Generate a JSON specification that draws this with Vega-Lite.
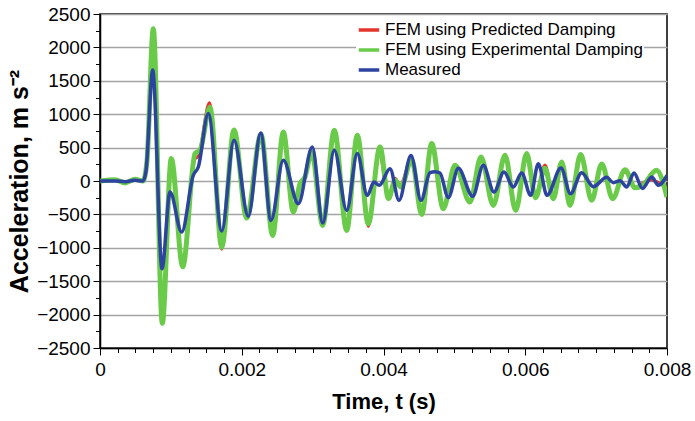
{
  "$schema": "https://vega.github.io/schema/vega-lite/v6.json",
  "width": 567,
  "height": 334,
  "autosize": {"type": "none"},
  "padding": {"left": 100, "top": 14, "right": 28, "bottom": 73},
  "background": "white",
  "config": {
    "font": "Liberation Sans",
    "view": {"stroke": "black", "strokeWidth": 1.5},
    "axis": {"domainColor": "black", "domainWidth": 1.5, "tickColor": "black", "tickWidth": 1, "labelColor": "black", "titleColor": "black", "labelFont": "Liberation Sans", "titleFont": "Liberation Sans"}
  },
  "datasets": {
    "acc": [
      {"series": "FEM using Predicted Damping", "t": 0, "a": 0},
      {"series": "FEM using Predicted Damping", "t": 0.00021164, "a": 15},
      {"series": "FEM using Predicted Damping", "t": 0.00035273, "a": -25},
      {"series": "FEM using Predicted Damping", "t": 0.00049383, "a": 20},
      {"series": "FEM using Predicted Damping", "t": 0.0006067, "a": 0},
      {"series": "FEM using Predicted Damping", "t": 0.00066314, "a": 280},
      {"series": "FEM using Predicted Damping", "t": 0.00075203, "a": 2230},
      {"series": "FEM using Predicted Damping", "t": 0.00087901, "a": -2080},
      {"series": "FEM using Predicted Damping", "t": 0.00100599, "a": 300},
      {"series": "FEM using Predicted Damping", "t": 0.00116684, "a": -1250},
      {"series": "FEM using Predicted Damping", "t": 0.00134038, "a": 330},
      {"series": "FEM using Predicted Damping", "t": 0.00138694, "a": 370},
      {"series": "FEM using Predicted Damping", "t": 0.00154497, "a": 1170},
      {"series": "FEM using Predicted Damping", "t": 0.0017171, "a": -1020},
      {"series": "FEM using Predicted Damping", "t": 0.00189065, "a": 740},
      {"series": "FEM using Predicted Damping", "t": 0.00206983, "a": -560},
      {"series": "FEM using Predicted Damping", "t": 0.0022716, "a": 700},
      {"series": "FEM using Predicted Damping", "t": 0.00243668, "a": -790},
      {"series": "FEM using Predicted Damping", "t": 0.00258623, "a": 700},
      {"series": "FEM using Predicted Damping", "t": 0.00272733, "a": -430},
      {"series": "FEM using Predicted Damping", "t": 0.00282187, "a": -60},
      {"series": "FEM using Predicted Damping", "t": 0.00289241, "a": 40},
      {"series": "FEM using Predicted Damping", "t": 0.00298694, "a": 400},
      {"series": "FEM using Predicted Damping", "t": 0.00314214, "a": -640},
      {"series": "FEM using Predicted Damping", "t": 0.00330581, "a": 720},
      {"series": "FEM using Predicted Damping", "t": 0.00348076, "a": -700},
      {"series": "FEM using Predicted Damping", "t": 0.00363033, "a": 650},
      {"series": "FEM using Predicted Damping", "t": 0.00378553, "a": -680},
      {"series": "FEM using Predicted Damping", "t": 0.0039365, "a": 430},
      {"series": "FEM using Predicted Damping", "t": 0.00407053, "a": -230},
      {"series": "FEM using Predicted Damping", "t": 0.00416224, "a": 40},
      {"series": "FEM using Predicted Damping", "t": 0.0042328, "a": -60},
      {"series": "FEM using Predicted Damping", "t": 0.00439787, "a": 330},
      {"series": "FEM using Predicted Damping", "t": 0.00453897, "a": -460},
      {"series": "FEM using Predicted Damping", "t": 0.00468007, "a": 500},
      {"series": "FEM using Predicted Damping", "t": 0.00484372, "a": -380},
      {"series": "FEM using Predicted Damping", "t": 0.0050088, "a": 210},
      {"series": "FEM using Predicted Damping", "t": 0.00522045, "a": -290},
      {"series": "FEM using Predicted Damping", "t": 0.00537564, "a": 330},
      {"series": "FEM using Predicted Damping", "t": 0.00554919, "a": -340},
      {"series": "FEM using Predicted Damping", "t": 0.00571427, "a": 350},
      {"series": "FEM using Predicted Damping", "t": 0.00586524, "a": -400},
      {"series": "FEM using Predicted Damping", "t": 0.00602044, "a": 370},
      {"series": "FEM using Predicted Damping", "t": 0.0061446, "a": -230},
      {"series": "FEM using Predicted Damping", "t": 0.00627864, "a": 240},
      {"series": "FEM using Predicted Damping", "t": 0.00639575, "a": -250},
      {"series": "FEM using Predicted Damping", "t": 0.00651427, "a": 250},
      {"series": "FEM using Predicted Damping", "t": 0.00663137, "a": -330},
      {"series": "FEM using Predicted Damping", "t": 0.00678234, "a": 360},
      {"series": "FEM using Predicted Damping", "t": 0.00693754, "a": -270},
      {"series": "FEM using Predicted Damping", "t": 0.00707866, "a": 240},
      {"series": "FEM using Predicted Damping", "t": 0.00723385, "a": -240},
      {"series": "FEM using Predicted Damping", "t": 0.00740738, "a": 140},
      {"series": "FEM using Predicted Damping", "t": 0.00754848, "a": -90},
      {"series": "FEM using Predicted Damping", "t": 0.0077601, "a": 20},
      {"series": "FEM using Predicted Damping", "t": 0.008, "a": -110},

      {"series": "FEM using Experimental Damping", "t": 0, "a": 0},
      {"series": "FEM using Experimental Damping", "t": 0.00021164, "a": 20},
      {"series": "FEM using Experimental Damping", "t": 0.00035273, "a": -30},
      {"series": "FEM using Experimental Damping", "t": 0.00049383, "a": 25},
      {"series": "FEM using Experimental Damping", "t": 0.0006067, "a": 0},
      {"series": "FEM using Experimental Damping", "t": 0.00066314, "a": 300},
      {"series": "FEM using Experimental Damping", "t": 0.00075203, "a": 2280},
      {"series": "FEM using Experimental Damping", "t": 0.00087901, "a": -2130},
      {"series": "FEM using Experimental Damping", "t": 0.00100599, "a": 335},
      {"series": "FEM using Experimental Damping", "t": 0.00116684, "a": -1285},
      {"series": "FEM using Experimental Damping", "t": 0.00134038, "a": 410},
      {"series": "FEM using Experimental Damping", "t": 0.00141093, "a": 460},
      {"series": "FEM using Experimental Damping", "t": 0.00155202, "a": 1105},
      {"series": "FEM using Experimental Damping", "t": 0.0017171, "a": -990},
      {"series": "FEM using Experimental Damping", "t": 0.00189065, "a": 765},
      {"series": "FEM using Experimental Damping", "t": 0.00206983, "a": -555},
      {"series": "FEM using Experimental Damping", "t": 0.0022716, "a": 700},
      {"series": "FEM using Experimental Damping", "t": 0.00243668, "a": -815},
      {"series": "FEM using Experimental Damping", "t": 0.00258623, "a": 735},
      {"series": "FEM using Experimental Damping", "t": 0.00272733, "a": -465},
      {"series": "FEM using Experimental Damping", "t": 0.00282187, "a": -40},
      {"series": "FEM using Experimental Damping", "t": 0.00289241, "a": 60},
      {"series": "FEM using Experimental Damping", "t": 0.00298694, "a": 430},
      {"series": "FEM using Experimental Damping", "t": 0.00314214, "a": -665},
      {"series": "FEM using Experimental Damping", "t": 0.00330581, "a": 760},
      {"series": "FEM using Experimental Damping", "t": 0.00348076, "a": -740},
      {"series": "FEM using Experimental Damping", "t": 0.00363033, "a": 685},
      {"series": "FEM using Experimental Damping", "t": 0.00378553, "a": -640},
      {"series": "FEM using Experimental Damping", "t": 0.00395061, "a": 510},
      {"series": "FEM using Experimental Damping", "t": 0.00407053, "a": -265},
      {"series": "FEM using Experimental Damping", "t": 0.00416224, "a": 10},
      {"series": "FEM using Experimental Damping", "t": 0.0042469, "a": -90},
      {"series": "FEM using Experimental Damping", "t": 0.00439787, "a": 320},
      {"series": "FEM using Experimental Damping", "t": 0.00453897, "a": -500},
      {"series": "FEM using Experimental Damping", "t": 0.00468007, "a": 560},
      {"series": "FEM using Experimental Damping", "t": 0.00484372, "a": -415},
      {"series": "FEM using Experimental Damping", "t": 0.0050088, "a": 235},
      {"series": "FEM using Experimental Damping", "t": 0.00522045, "a": -315},
      {"series": "FEM using Experimental Damping", "t": 0.00537564, "a": 360},
      {"series": "FEM using Experimental Damping", "t": 0.00554919, "a": -365},
      {"series": "FEM using Experimental Damping", "t": 0.00571427, "a": 385},
      {"series": "FEM using Experimental Damping", "t": 0.00586524, "a": -440},
      {"series": "FEM using Experimental Damping", "t": 0.00602044, "a": 410},
      {"series": "FEM using Experimental Damping", "t": 0.0061446, "a": -250},
      {"series": "FEM using Experimental Damping", "t": 0.00627864, "a": 190},
      {"series": "FEM using Experimental Damping", "t": 0.00639575, "a": -265},
      {"series": "FEM using Experimental Damping", "t": 0.00651427, "a": 285},
      {"series": "FEM using Experimental Damping", "t": 0.00663137, "a": -365},
      {"series": "FEM using Experimental Damping", "t": 0.00678234, "a": 395},
      {"series": "FEM using Experimental Damping", "t": 0.00693754, "a": -290},
      {"series": "FEM using Experimental Damping", "t": 0.00707866, "a": 255},
      {"series": "FEM using Experimental Damping", "t": 0.00723385, "a": -265},
      {"series": "FEM using Experimental Damping", "t": 0.00740738, "a": 170},
      {"series": "FEM using Experimental Damping", "t": 0.00754848, "a": -100},
      {"series": "FEM using Experimental Damping", "t": 0.0076543, "a": -70},
      {"series": "FEM using Experimental Damping", "t": 0.00785182, "a": 160},
      {"series": "FEM using Experimental Damping", "t": 0.008, "a": -240},

      {"series": "Measured", "t": 0, "a": 0},
      {"series": "Measured", "t": 0.00021164, "a": 0},
      {"series": "Measured", "t": 0.00035273, "a": -10},
      {"series": "Measured", "t": 0.00049383, "a": 10},
      {"series": "Measured", "t": 0.0006067, "a": 0},
      {"series": "Measured", "t": 0.00064903, "a": 150},
      {"series": "Measured", "t": 0.00074356, "a": 1660},
      {"series": "Measured", "t": 0.00087478, "a": -1315},
      {"series": "Measured", "t": 0.00098765, "a": -165},
      {"series": "Measured", "t": 0.00115273, "a": -765},
      {"series": "Measured", "t": 0.0013164, "a": 85},
      {"series": "Measured", "t": 0.00138694, "a": 210},
      {"series": "Measured", "t": 0.00152804, "a": 1010},
      {"series": "Measured", "t": 0.0017171, "a": -750},
      {"series": "Measured", "t": 0.00189065, "a": 610},
      {"series": "Measured", "t": 0.00209241, "a": -530},
      {"series": "Measured", "t": 0.00226737, "a": 720},
      {"series": "Measured", "t": 0.0024127, "a": -590},
      {"series": "Measured", "t": 0.00258623, "a": 310},
      {"series": "Measured", "t": 0.00279787, "a": -340},
      {"series": "Measured", "t": 0.00299541, "a": 510},
      {"series": "Measured", "t": 0.00314214, "a": -630},
      {"series": "Measured", "t": 0.00330581, "a": 460},
      {"series": "Measured", "t": 0.00348076, "a": -440},
      {"series": "Measured", "t": 0.00363033, "a": 410},
      {"series": "Measured", "t": 0.00377142, "a": -215},
      {"series": "Measured", "t": 0.00386596, "a": -15},
      {"series": "Measured", "t": 0.00394074, "a": -65},
      {"series": "Measured", "t": 0.00409171, "a": 185},
      {"series": "Measured", "t": 0.00421869, "a": -290},
      {"series": "Measured", "t": 0.00438801, "a": 380},
      {"series": "Measured", "t": 0.0045291, "a": -290},
      {"series": "Measured", "t": 0.00465608, "a": 125},
      {"series": "Measured", "t": 0.00472662, "a": 140},
      {"series": "Measured", "t": 0.00479717, "a": 120},
      {"series": "Measured", "t": 0.00491427, "a": -250},
      {"series": "Measured", "t": 0.00505536, "a": 190},
      {"series": "Measured", "t": 0.00525853, "a": -230},
      {"series": "Measured", "t": 0.00540809, "a": 235},
      {"series": "Measured", "t": 0.00555906, "a": -165},
      {"series": "Measured", "t": 0.00570016, "a": 135},
      {"series": "Measured", "t": 0.00583137, "a": -90},
      {"series": "Measured", "t": 0.00594989, "a": 120},
      {"series": "Measured", "t": 0.00607687, "a": -215},
      {"series": "Measured", "t": 0.0061841, "a": 260},
      {"series": "Measured", "t": 0.00630686, "a": -215},
      {"series": "Measured", "t": 0.00650439, "a": 195},
      {"series": "Measured", "t": 0.00663843, "a": -190},
      {"series": "Measured", "t": 0.00679645, "a": 125},
      {"series": "Measured", "t": 0.00696012, "a": -85},
      {"series": "Measured", "t": 0.00714919, "a": 55},
      {"series": "Measured", "t": 0.0072423, "a": -25},
      {"series": "Measured", "t": 0.00733683, "a": 5},
      {"series": "Measured", "t": 0.00743137, "a": -90},
      {"series": "Measured", "t": 0.00753437, "a": 120},
      {"series": "Measured", "t": 0.0076543, "a": -112},
      {"series": "Measured", "t": 0.00778411, "a": 60},
      {"series": "Measured", "t": 0.00787725, "a": -62},
      {"series": "Measured", "t": 0.008, "a": 85}
    ]
  },
  "data": {"name": "acc"},
  "encoding": {
    "x": {
      "field": "t", "type": "quantitative",
      "scale": {"domain": [0, 0.008], "nice": false, "zero": false},
      "axis": {
        "values": [0,0.00025,0.0005,0.00075,0.001,0.00125,0.0015,0.00175,0.002,0.00225,0.0025,0.00275,0.003,0.00325,0.0035,0.00375,0.004,0.00425,0.0045,0.00475,0.005,0.00525,0.0055,0.00575,0.006,0.00625,0.0065,0.00675,0.007,0.00725,0.0075,0.00775,0.008],
        "format": ".3~f",
        "labelExpr": "abs(datum.value*500 - round(datum.value*500)) < 0.001 ? datum.label : ''",
        "tickSize": {"condition": {"test": "abs(datum.value*500 - round(datum.value*500)) < 0.001", "value": 7}, "value": 4.5},
        "labelFontSize": 19,
        "labelPadding": 5,
        "labelFlush": false,
        "labelOverlap": false,
        "grid": false,
        "title": "Time, t (s)",
        "titleFontSize": 22,
        "titleFontWeight": "bold",
        "titleY": 60,
        "titleBaseline": "alphabetic"
      }
    },
    "y": {
      "field": "a", "type": "quantitative",
      "scale": {"domain": [-2500, 2500], "nice": false, "zero": false},
      "axis": {
        "values": [-2500,-2250,-2000,-1750,-1500,-1250,-1000,-750,-500,-250,0,250,500,750,1000,1250,1500,1750,2000,2250,2500],
        "format": "d",
        "labelExpr": "datum.value % 500 === 0 ? datum.label : ''",
        "tickSize": {"condition": {"test": "datum.value % 500 === 0", "value": 7}, "value": 4.5},
        "labelFontSize": 19,
        "labelPadding": 3,
        "labelFlush": false,
        "labelOverlap": false,
        "grid": true,
        "gridColor": "#a3a3a3",
        "gridWidth": 1.5,
        "gridOpacity": {"condition": {"test": "datum.value % 500 === 0", "value": 1}, "value": 0},
        "title": "Acceleration, m s⁻²",
        "titleFontSize": 25,
        "titleFontWeight": "bold",
        "titleAngle": 270,
        "titleX": -73,
        "titleY": 167,
        "titleAlign": "center",
        "titleBaseline": "alphabetic"
      }
    },
    "color": {
      "field": "series", "type": "nominal",
      "scale": {
        "domain": ["FEM using Predicted Damping", "FEM using Experimental Damping", "Measured"],
        "range": ["#e2352b", "#6acb4a", "#2c43a0"]
      },
      "legend": {
        "orient": "none",
        "legendX": 256,
        "legendY": 3,
        "title": null,
        "labelFontSize": 17,
        "labelFont": "Liberation Sans",
        "labelColor": "black",
        "symbolType": "stroke",
        "symbolSize": 420,
        "symbolStrokeWidth": 3.5,
        "labelOffset": 4,
        "rowPadding": 0,
        "padding": 1,
        "fillColor": "white",
        "labelLimit": 400
      }
    }
  },
  "layer": [
    {
      "transform": [{"filter": "datum.series === 'FEM using Predicted Damping'"}],
      "mark": {"type": "line", "strokeWidth": 3, "interpolate": "monotone", "clip": true}
    },
    {
      "transform": [{"filter": "datum.series === 'FEM using Experimental Damping'"}],
      "mark": {"type": "line", "strokeWidth": 5, "interpolate": "monotone", "clip": true}
    },
    {
      "transform": [{"filter": "datum.series === 'Measured'"}],
      "mark": {"type": "line", "strokeWidth": 3.5, "interpolate": "monotone", "clip": true}
    }
  ]
}
